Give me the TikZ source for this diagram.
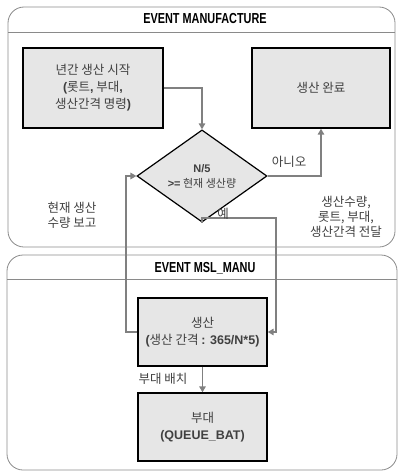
\documentclass[tikz,border=0pt]{standalone}
\usepackage{fontspec}
\setmainfont{Noto Sans CJK KR}[BoldFont={Noto Sans CJK KR Bold}]
\newfontfamily\condfont{Liberation Sans}[FakeStretch=0.75]
\newfontfamily\latfont{Liberation Sans}
\newcommand{\lb}[1]{{\latfont\bfseries #1}}
\usetikzlibrary{shapes.geometric,arrows.meta}
\definecolor{boxfill}{HTML}{E6E6E6}
\definecolor{arrgray}{HTML}{808080}
\definecolor{framegray}{HTML}{8A8A8A}
\definecolor{txt}{HTML}{404040}
\tikzset{
  frame/.style={draw=framegray, line width=0.8pt, rounded corners=16pt},
  stepbox/.style={draw=black, line width=1.4pt, fill=boxfill, align=center, inner sep=2pt,
    font=\fontsize{12.5}{17}\selectfont, text=txt},
  decision/.style={diamond, draw=black, line width=1.2pt, fill=boxfill, align=center, inner sep=0pt,
    minimum width=130pt, minimum height=64pt, font=\fontsize{11}{15}\selectfont, text=txt},
  arr/.style={draw=arrgray, line width=1.8pt, -{Triangle[length=6pt,width=6.5pt]}},
  lbl/.style={align=center, font=\fontsize{12.5}{15}\selectfont, text=txt},
  ttl/.style={font=\condfont\bfseries\fontsize{14.5}{15}\selectfont}
}
\begin{document}
\begin{tikzpicture}[x=1pt,y=-1pt]
\useasboundingbox (0,0) rectangle (398,471);
% containers
\draw[frame] (8,7) rectangle (395,247);
\draw[framegray, line width=0.8pt] (8,32) -- (395,32);
\node[ttl] (t1) at (205,19) {EVENT MANUFACTURE};
\draw[frame] (7,255) rectangle (397,470);
\draw[framegray, line width=0.8pt] (7,279) -- (397,279);
\node[ttl] (t2) at (205,268) {EVENT MSL\_MANU};
% nodes
\node[stepbox, minimum width=140pt, minimum height=80pt] (b1) at (93,88)
  {년간 생산 시작\\\lb{(}롯트\lb{,} 부대\lb{,}\\생산간격 명령\lb{)}};
\node[stepbox, minimum width=138pt, minimum height=80pt] (b2) at (321,88) {생산 완료};
\node[decision] (dia) at (202,176) {\lb{N/5}\\\lb{>=} 현재 생산량};
\node[stepbox, minimum width=129pt, minimum height=68pt] (prod) at (202.5,332)
  {생산\\\lb{(}생산 간격 \lb{: 365/N*5)}};
\node[stepbox, minimum width=129pt, minimum height=68pt] (bat) at (202.5,427)
  {부대\\\lb{(QUEUE\_BAT)}};
\coordinate (c1) at (276,218);
\coordinate (c2) at (126,176);
% connectors
\draw[arr] (b1.east) -| (dia.north);
\draw[arr] (dia.east) -| (b2.south);
\draw[arr] (dia.south) |- (c1) |- (prod.east);
\draw[arr] (prod.west) -| (c2) -- (dia.west);
\draw[arr] (prod.south) -- (bat.north);
% labels
\node[lbl] (l1) at (289,162) {아니오};
\node[lbl] (l2) at (223,214) {예};
\node[lbl] (l3) at (72,215) {현재 생산\\수량 보고};
\node[lbl] (l4) at (346,217) {생산수량,\\롯트, 부대,\\생산간격 전달};
\node[lbl] (l5) at (163,379) {부대 배치};
\end{tikzpicture}
\end{document}
